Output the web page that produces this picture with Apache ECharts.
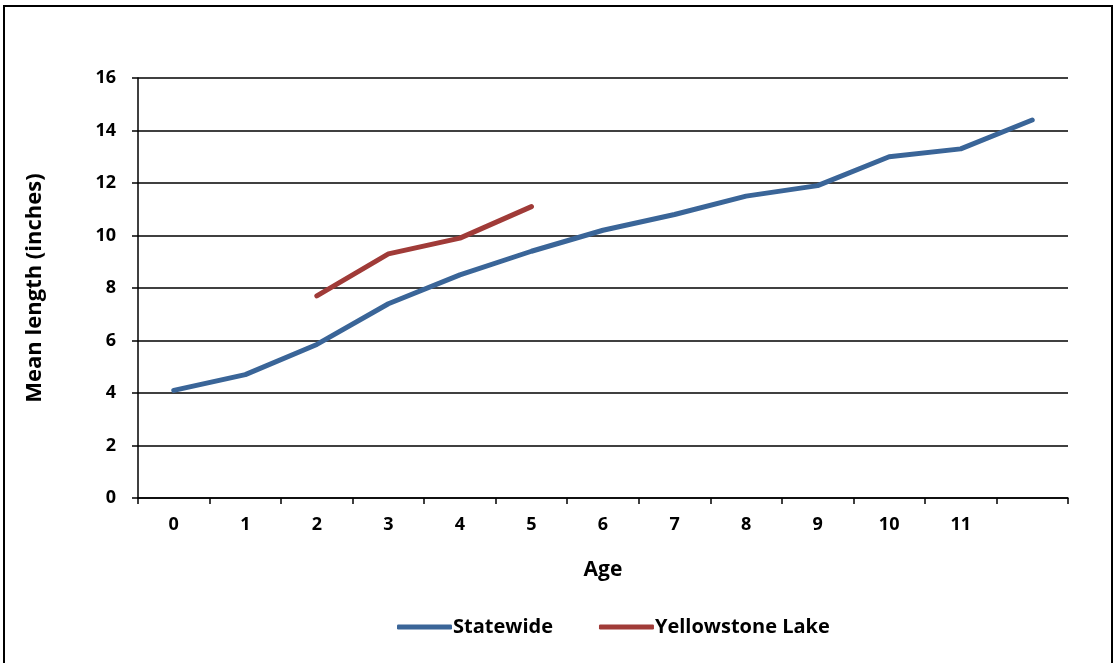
<!DOCTYPE html>
<html>
<head>
<meta charset="utf-8">
<script src="https://cdn.jsdelivr.net/npm/echarts@6/dist/echarts.min.js"></script>
<style>
html,body{margin:0;padding:0;background:#fff;}
#frame{position:absolute;left:3px;top:5px;width:1110px;height:660px;border:2px solid #000;box-sizing:border-box;}
#chart{position:absolute;left:0;top:0;width:1117px;height:663px;}
</style>
</head>
<body>
<div id="frame"></div>
<div id="chart"></div>
<script>
const ages = ['0','1','2','3','4','5','6','7','8','9','10','11',''];
const statewide = [4.1, 4.7, 5.85, 7.4, 8.5, 9.4, 10.2, 10.8, 11.5, 11.9, 13.0, 13.3, 14.4];
const yellowstone = [null, null, 7.7, 9.3, 9.9, 11.1, null, null, null, null, null, null, null];
const yTicks = {min: 0, max: 16, interval: 2};

const font = '"Open Sans", "Noto Sans", sans-serif';
const chart = echarts.init(document.getElementById('chart'));
chart.setOption({
  animation: false,
  textStyle: {fontFamily: font},
  grid: {left: 138, right: 49, top: 78, bottom: 165},
  legend: {
    bottom: 21, left: 392,
    itemWidth: 55, itemHeight: 5, itemGap: 46,
    icon: 'roundRect',
    textStyle: {fontFamily: font, fontWeight: 700, fontSize: 20, color: '#000', padding: [0,0,0,-4]},
    data: ['Statewide', 'Yellowstone Lake']
  },
  xAxis: {
    type: 'category', data: ages, boundaryGap: true,
    name: 'Age', nameLocation: 'middle', nameGap: 62,
    nameTextStyle: {fontFamily: font, fontWeight: 700, fontSize: 21, color: '#000'},
    axisLine: {lineStyle: {color: '#000', width: 1.5}},
    axisTick: {show: true, interval: 0, length: 6, lineStyle: {color: '#000', width: 1.5}},
    axisLabel: {interval: 0, margin: 18, fontFamily: font, fontWeight: 700, fontSize: 18, color: '#000'}
  },
  yAxis: {
    type: 'value', min: yTicks.min, max: yTicks.max, interval: yTicks.interval,
    name: 'Mean length (inches)', nameLocation: 'middle', nameGap: 92, nameRotate: 90,
    nameTextStyle: {fontFamily: font, fontWeight: 700, fontSize: 22, color: '#000'},
    axisLine: {show: true, lineStyle: {color: '#000', width: 1.5}},
    axisTick: {show: true, length: 6, lineStyle: {color: '#000', width: 1.5}},
    axisLabel: {margin: 22, fontFamily: font, fontWeight: 700, fontSize: 18, color: '#000'},
    splitLine: {show: true, lineStyle: {color: '#000', width: 1.5}}
  },
  series: [
    {name: 'Statewide', type: 'line', data: statewide, symbol: 'none',
     itemStyle: {color: '#3A6598'},
     lineStyle: {color: '#3A6598', width: 5, cap: 'round', join: 'round'}},
    {name: 'Yellowstone Lake', type: 'line', data: yellowstone, symbol: 'none',
     connectNulls: false,
     itemStyle: {color: '#A03B38'},
     lineStyle: {color: '#A03B38', width: 5, cap: 'round', join: 'round'}}
  ]
});
</script>
</body>
</html>
